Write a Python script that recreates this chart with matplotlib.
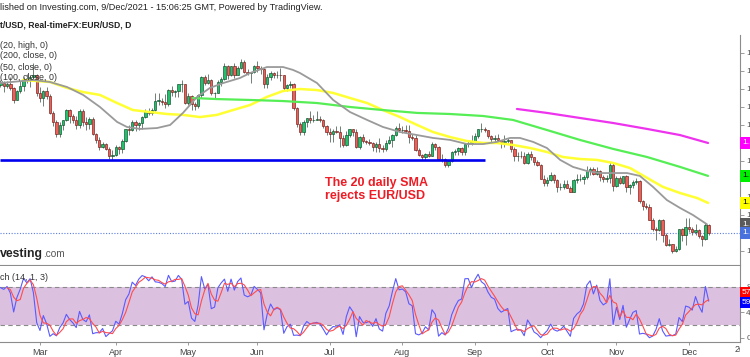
import numpy as np
import pandas as pd
import matplotlib
matplotlib.use('Agg')
import matplotlib.pyplot as plt
from matplotlib.transforms import Bbox

plt.rcParams['font.family'] = ['Liberation Sans', 'DejaVu Sans']

# ------------------------------------------------------------------
# ---------------- EUR/USD daily candles ----------
# ------------------------------------------------------------------
dates = pd.bdate_range('2021-01-25', '2021-12-09')

opens = [
    # Jan 25 - Feb 10
    1.2170, 1.2140, 1.2160, 1.2110, 1.2120, 1.2135, 1.2060, 1.2040, 1.2035, 1.1965, 1.2045, 1.2050, 1.2118,
    # Feb 11 - Feb 26
    1.2120, 1.2132, 1.2118, 1.2128, 1.2105, 1.2040, 1.2090, 1.2118, 1.2155, 1.2150, 1.2165, 1.2175,
    # Mar
    1.2075, 1.2048, 1.2090, 1.2060, 1.1966, 1.1915, 1.1848, 1.1900, 1.1930, 1.1985, 1.1952, 1.1930,
    1.1900, 1.1980, 1.1915, 1.1905, 1.1935, 1.1850, 1.1815, 1.1780, 1.1795, 1.1765, 1.1730,
    # Apr
    1.1735, 1.1778, 1.1765, 1.1813, 1.1875, 1.1870, 1.1915, 1.1900, 1.1910, 1.1945, 1.1978, 1.1965,
    1.1983, 1.2035, 1.2035, 1.2030, 1.2015, 1.2095, 1.2085, 1.2090, 1.2125, 1.2128,
    # May
    1.2020, 1.2060, 1.2015, 1.2005, 1.2065, 1.2165, 1.2135, 1.2150, 1.2075, 1.2080, 1.2140, 1.2155,
    1.2225, 1.2175, 1.2225, 1.2180, 1.2215, 1.2250, 1.2195, 1.2190, 1.2195,
    # Jun
    1.2225, 1.2215, 1.2210, 1.2125, 1.2165, 1.2190, 1.2175, 1.2180, 1.2175, 1.2105, 1.2120, 1.2125,
    1.1995, 1.1905, 1.1860, 1.1915, 1.1940, 1.1925, 1.1930, 1.1935, 1.1925, 1.1895,
    # Jul
    1.1860, 1.1850, 1.1865, 1.1860, 1.1825, 1.1790, 1.1845, 1.1875, 1.1860, 1.1775, 1.1835, 1.1810,
    1.1805, 1.1800, 1.1780, 1.1795, 1.1770, 1.1765, 1.1800, 1.1815, 1.1845, 1.1885,
    # Aug
    1.1870, 1.1872, 1.1865, 1.1835, 1.1830, 1.1760, 1.1735, 1.1720, 1.1740, 1.1730, 1.1795, 1.1780,
    1.1710, 1.1712, 1.1675, 1.1700, 1.1750, 1.1755, 1.1770, 1.1750, 1.1795, 1.1800,
    # Sep
    1.1807, 1.1840, 1.1875, 1.1880, 1.1870, 1.1840, 1.1820, 1.1825, 1.1815, 1.1805, 1.1810, 1.1815,
    1.1765, 1.1725, 1.1728, 1.1725, 1.1690, 1.1740, 1.1720, 1.1695, 1.1680, 1.1600,
    # Oct
    1.1580, 1.1595, 1.1620, 1.1595, 1.1555, 1.1558, 1.1570, 1.1552, 1.1530, 1.1595, 1.1598, 1.1600,
    1.1610, 1.1645, 1.1655, 1.1625, 1.1645, 1.1610, 1.1600, 1.1605, 1.1680,
    # Nov
    1.1560, 1.1605, 1.1580, 1.1615, 1.1555, 1.1565, 1.1585, 1.1590, 1.1480, 1.1448, 1.1445, 1.1370,
    1.1320, 1.1318, 1.1370, 1.1290, 1.1235, 1.1238, 1.1200, 1.1210, 1.1320, 1.1290,
    # Dec
    1.1335, 1.1320, 1.1305, 1.1315, 1.1285, 1.1265, 1.1345,
]

highs = [
    1.2180, 1.2170, 1.2170, 1.2140, 1.2155, 1.2150, 1.2077, 1.2050, 1.2040, 1.2050, 1.2060, 1.2125, 1.2150,
    1.2150, 1.2145, 1.2145, 1.2169, 1.2110, 1.2092, 1.2147, 1.2169, 1.2181, 1.2175, 1.2243, 1.2185,
    1.2113, 1.2094, 1.2113, 1.2073, 1.1975, 1.1925, 1.1915, 1.1930, 1.1990, 1.1990, 1.1962, 1.1950,
    1.1988, 1.1990, 1.1945, 1.1945, 1.1942, 1.1853, 1.1835, 1.1808, 1.1800, 1.1775, 1.1760,
    1.1790, 1.1782, 1.1820, 1.1880, 1.1900, 1.1927, 1.1925, 1.1915, 1.1950, 1.1990, 1.1995, 1.1995,
    1.2080, 1.2079, 1.2050, 1.2070, 1.2100, 1.2117, 1.2095, 1.2130, 1.2150, 1.2130,
    1.2075, 1.2065, 1.2030, 1.2072, 1.2172, 1.2180, 1.2182, 1.2158, 1.2085, 1.2150, 1.2165, 1.2245,
    1.2235, 1.2230, 1.2245, 1.2225, 1.2266, 1.2262, 1.2210, 1.2195, 1.2235,
    1.2255, 1.2225, 1.2215, 1.2185, 1.2200, 1.2195, 1.2200, 1.2218, 1.2180, 1.2130, 1.2145, 1.2135,
    1.2000, 1.1915, 1.1925, 1.1940, 1.1975, 1.1955, 1.1975, 1.1950, 1.1935, 1.1900,
    1.1885, 1.1875, 1.1895, 1.1895, 1.1845, 1.1868, 1.1880, 1.1880, 1.1880, 1.1838, 1.1850, 1.1815,
    1.1820, 1.1806, 1.1803, 1.1830, 1.1790, 1.1815, 1.1840, 1.1850, 1.1895, 1.1909,
    1.1892, 1.1898, 1.1900, 1.1850, 1.1845, 1.1770, 1.1740, 1.1745, 1.1755, 1.1805, 1.1800, 1.1785,
    1.1740, 1.1715, 1.1703, 1.1755, 1.1765, 1.1775, 1.1780, 1.1800, 1.1810, 1.1845,
    1.1857, 1.1875, 1.1909, 1.1887, 1.1870, 1.1845, 1.1845, 1.1849, 1.1817, 1.1845, 1.1830, 1.1815,
    1.1780, 1.1750, 1.1755, 1.1750, 1.1750, 1.1755, 1.1720, 1.1705, 1.1685, 1.1620,
    1.1610, 1.1640, 1.1625, 1.1600, 1.1580, 1.1595, 1.1595, 1.1560, 1.1600, 1.1625, 1.1625, 1.1620,
    1.1670, 1.1668, 1.1665, 1.1665, 1.1650, 1.1620, 1.1620, 1.1692, 1.1690,
    1.1615, 1.1615, 1.1617, 1.1620, 1.1570, 1.1595, 1.1608, 1.1595, 1.1485, 1.1464, 1.1460, 1.1385,
    1.1335, 1.1375, 1.1375, 1.1300, 1.1265, 1.1240, 1.1230, 1.1320, 1.1330, 1.1383,
    1.1383, 1.1335, 1.1350, 1.1320, 1.1290, 1.1355, 1.1350,
]

lows = [
    1.2117, 1.2105, 1.2060, 1.2080, 1.2110, 1.2060, 1.2010, 1.2005, 1.1953, 1.1952, 1.2010, 1.2045, 1.2105,
    1.2110, 1.2083, 1.2105, 1.2093, 1.2023, 1.2040, 1.2078, 1.2090, 1.2135, 1.2110, 1.2160, 1.2060,
    1.2027, 1.2008, 1.2045, 1.1960, 1.1893, 1.1836, 1.1835, 1.1872, 1.1920, 1.1910, 1.1910, 1.1880,
    1.1885, 1.1895, 1.1873, 1.1880, 1.1842, 1.1800, 1.1762, 1.1770, 1.1761, 1.1712, 1.1704,
    1.1725, 1.1740, 1.1745, 1.1807, 1.1846, 1.1867, 1.1868, 1.1870, 1.1875, 1.1940, 1.1955, 1.1955,
    1.1975, 1.2010, 1.2010, 1.1995, 1.2005, 1.2060, 1.2055, 1.2055, 1.2085, 1.2015,
    1.2012, 1.1985, 1.1985, 1.1995, 1.2050, 1.2120, 1.2125, 1.2068, 1.2052, 1.2075, 1.2118, 1.2150,
    1.2155, 1.2170, 1.2160, 1.2180, 1.2210, 1.2190, 1.2175, 1.2135, 1.2190,
    1.2195, 1.2185, 1.2105, 1.2104, 1.2150, 1.2160, 1.2160, 1.2145, 1.2093, 1.2090, 1.2105, 1.1985,
    1.1890, 1.1847, 1.1845, 1.1890, 1.1913, 1.1915, 1.1925, 1.1915, 1.1882, 1.1847,
    1.1807, 1.1805, 1.1855, 1.1780, 1.1780, 1.1782, 1.1835, 1.1837, 1.1772, 1.1765, 1.1800, 1.1797,
    1.1790, 1.1755, 1.1752, 1.1750, 1.1750, 1.1755, 1.1795, 1.1780, 1.1840, 1.1860,
    1.1855, 1.1855, 1.1800, 1.1815, 1.1755, 1.1727, 1.1705, 1.1706, 1.1722, 1.1725, 1.1762, 1.1705,
    1.1695, 1.1665, 1.1664, 1.1695, 1.1735, 1.1735, 1.1735, 1.1735, 1.1780, 1.1790,
    1.1798, 1.1825, 1.1860, 1.1860, 1.1830, 1.1800, 1.1805, 1.1810, 1.1770, 1.1780, 1.1800, 1.1750,
    1.1700, 1.1700, 1.1715, 1.1683, 1.1685, 1.1705, 1.1680, 1.1670, 1.1600, 1.1563,
    1.1563, 1.1590, 1.1580, 1.1529, 1.1540, 1.1545, 1.1550, 1.1525, 1.1525, 1.1580, 1.1590, 1.1570,
    1.1600, 1.1620, 1.1620, 1.1620, 1.1590, 1.1585, 1.1585, 1.1580, 1.1535,
    1.1555, 1.1570, 1.1570, 1.1528, 1.1514, 1.1550, 1.1570, 1.1467, 1.1430, 1.1433, 1.1370, 1.1310,
    1.1263, 1.1310, 1.1250, 1.1225, 1.1227, 1.1186, 1.1195, 1.1205, 1.1255, 1.1235,
    1.1306, 1.1290, 1.1290, 1.1270, 1.1227, 1.1260, 1.1290,
]

closes = [
    1.2140, 1.2160, 1.2110, 1.2120, 1.2135, 1.2060, 1.2040, 1.2035, 1.1965, 1.2045, 1.2050, 1.2118, 1.2120,
    1.2132, 1.2118, 1.2128, 1.2105, 1.2040, 1.2090, 1.2118, 1.2155, 1.2150, 1.2165, 1.2175, 1.2075,
    1.2048, 1.2090, 1.2060, 1.1966, 1.1915, 1.1848, 1.1900, 1.1930, 1.1985, 1.1952, 1.1930, 1.1900,
    1.1980, 1.1915, 1.1905, 1.1935, 1.1850, 1.1815, 1.1780, 1.1795, 1.1765, 1.1730, 1.1735,
    1.1778, 1.1765, 1.1813, 1.1875, 1.1870, 1.1915, 1.1900, 1.1910, 1.1945, 1.1978, 1.1965, 1.1983,
    1.2035, 1.2035, 1.2030, 1.2015, 1.2095, 1.2085, 1.2090, 1.2125, 1.2128, 1.2020,
    1.2060, 1.2015, 1.2005, 1.2065, 1.2165, 1.2135, 1.2150, 1.2075, 1.2080, 1.2140, 1.2155, 1.2225,
    1.2175, 1.2225, 1.2180, 1.2215, 1.2250, 1.2195, 1.2190, 1.2195, 1.2225,
    1.2215, 1.2210, 1.2125, 1.2165, 1.2190, 1.2175, 1.2180, 1.2175, 1.2105, 1.2120, 1.2125, 1.1995,
    1.1905, 1.1860, 1.1915, 1.1940, 1.1925, 1.1930, 1.1935, 1.1925, 1.1895, 1.1860,
    1.1850, 1.1865, 1.1860, 1.1825, 1.1790, 1.1845, 1.1875, 1.1860, 1.1775, 1.1835, 1.1810, 1.1805,
    1.1800, 1.1780, 1.1795, 1.1770, 1.1765, 1.1800, 1.1815, 1.1845, 1.1885, 1.1870,
    1.1872, 1.1865, 1.1835, 1.1830, 1.1760, 1.1735, 1.1720, 1.1740, 1.1730, 1.1795, 1.1780, 1.1710,
    1.1712, 1.1675, 1.1700, 1.1750, 1.1755, 1.1770, 1.1750, 1.1795, 1.1800, 1.1807,
    1.1840, 1.1875, 1.1880, 1.1870, 1.1840, 1.1820, 1.1825, 1.1815, 1.1805, 1.1810, 1.1815, 1.1765,
    1.1725, 1.1728, 1.1725, 1.1690, 1.1740, 1.1720, 1.1695, 1.1680, 1.1600, 1.1580,
    1.1595, 1.1620, 1.1595, 1.1555, 1.1558, 1.1570, 1.1552, 1.1530, 1.1595, 1.1598, 1.1600, 1.1610,
    1.1645, 1.1655, 1.1625, 1.1645, 1.1610, 1.1600, 1.1605, 1.1680, 1.1560,
    1.1605, 1.1580, 1.1615, 1.1555, 1.1565, 1.1585, 1.1590, 1.1480, 1.1448, 1.1445, 1.1370, 1.1320,
    1.1318, 1.1370, 1.1290, 1.1235, 1.1238, 1.1200, 1.1210, 1.1320, 1.1290, 1.1335,
    1.1320, 1.1305, 1.1315, 1.1285, 1.1265, 1.1345, 1.1300,
]

# ---------------- moving averages (bar number, 0 = 1 Mar) --------
sma20h_x = [-12.1, -2.1, 3.0, 8.2, 13.1, 18.2, 23.4, 26.4, 30.4, 35.5, 39.5, 43.4, 47.7, 51.6, 55.6,
            60.7, 63.8, 68.9, 73.8, 76.8, 78.9, 84.1, 89.0, 94.1, 99.3, 104.1, 109.3, 114.5, 119.3,
            124.5, 129.6, 134.5, 138.7, 142.7, 145.7, 149.7, 153.9, 157.9, 161.8, 166.1, 170.0,
            174.0, 178.2, 182.1, 186.1, 190.3, 194.3, 198.2, 202.5]
sma20h_y = [1.2133, 1.2150, 1.2139, 1.2111, 1.2067, 1.2000, 1.1917, 1.1889, 1.1878, 1.1883, 1.1900,
            1.1967, 1.2056, 1.2106, 1.2133, 1.2161, 1.2189, 1.2222, 1.2222, 1.2206, 1.2189, 1.2133,
            1.2039, 1.1972, 1.1928, 1.1889, 1.1861, 1.1844, 1.1828, 1.1817, 1.1794, 1.1794, 1.1806,
            1.1828, 1.1828, 1.1806, 1.1772, 1.1706, 1.1667, 1.1644, 1.1633, 1.1633, 1.1633, 1.1617,
            1.1556, 1.1483, 1.1439, 1.1400, 1.1348]

sma50_x = [-5.2, 3.0, 8.2, 13.1, 18.2, 23.4, 28.2, 33.4, 38.6, 43.4, 48.6, 53.7, 58.6, 63.8, 68.9,
           73.8, 78.9, 84.1, 89.0, 94.1, 99.3, 104.1, 109.3, 114.5, 119.3, 124.5, 129.6, 134.5,
           138.7, 143.6, 148.8, 153.9, 158.8, 163.9, 169.1, 174.0, 179.1, 184.3, 189.1, 194.3,
           199.5, 202.8]
sma50_y = [1.2150, 1.2139, 1.2106, 1.2083, 1.2067, 1.2022, 1.1983, 1.1972, 1.1961, 1.1956, 1.1944,
           1.1956, 1.1983, 1.2011, 1.2056, 1.2089, 1.2100, 1.2094, 1.2078, 1.2050, 1.2022, 1.1983,
           1.1944, 1.1900, 1.1861, 1.1833, 1.1811, 1.1800, 1.1800, 1.1789, 1.1772, 1.1750, 1.1722,
           1.1711, 1.1706, 1.1689, 1.1661, 1.1606, 1.1556, 1.1522, 1.1494, 1.1467]

sma100_x = [46.4, 53.7, 63.8, 73.8, 84.1, 94.1, 104.1, 114.5, 124.5, 134.5, 143.6, 153.9, 163.9,
            174.0, 184.3, 194.3, 202.8]
sma100_y = [1.2050, 1.2044, 1.2039, 1.2033, 1.2022, 1.2000, 1.1983, 1.1967, 1.1961, 1.1950, 1.1928,
            1.1872, 1.1817, 1.1767, 1.1722, 1.1667, 1.1617]

sma200_x = [144.8, 153.9, 163.9, 174.0, 184.3, 194.3, 202.8]
sma200_y = [1.1989, 1.1967, 1.1939, 1.1911, 1.1878, 1.1844, 1.1800]

# support line drawn on the chart
support_level = 1.1705
support_from, support_to = -12.1, 135.1

months = ['Mar', 'Apr', 'May', 'Jun', 'Jul', 'Aug', 'Sep', 'Oct', 'Nov', 'Dec']

# ------------------------------------------------------------------
df = pd.DataFrame({'o': opens, 'h': highs, 'l': lows, 'c': closes}, index=dates)
first_mar = df.index.get_loc(pd.Timestamp('2021-03-01'))
x = np.arange(len(df)) - first_mar

# stochastic (14, 1, 3) from the candles
ll = df['l'].rolling(14).min()
hh = df['h'].rolling(14).max()
k = 100 * (df['c'] - ll) / (hh - ll)
d = k.rolling(3).mean()

# ------------------------------------------------------------------
W, H = 750, 357


def box(x0, y0, x1, y1):
    return [x0 / W, 1 - y1 / H, (x1 - x0) / W, (y1 - y0) / H]


fig = plt.figure(figsize=(7.5, 3.57), dpi=100)
ax = fig.add_axes(box(0, 35, 740, 265))
ax2 = fig.add_axes(box(0, 266, 740, 342))

px_bar = 3.294
xmin, xmax = -40 / px_bar, 700 / px_bar
for a in (ax, ax2):
    a.set_xlim(xmin, xmax)
    a.spines['top'].set_visible(False)
    a.spines['left'].set_visible(False)
    a.spines['right'].set_color('#8c8c8c')
    a.spines['bottom'].set_color('#8c8c8c')
    a.yaxis.tick_right()
    a.tick_params(axis='y', length=3, width=0.6, colors='#8c8c8c', labelcolor='#555555',
                  labelsize=6, pad=1.5)

ax.set_ylim(1.1122, 1.24)
ax.set_xticks([])
yt = [1.12, 1.13, 1.14, 1.15, 1.16, 1.17, 1.18, 1.19, 1.20, 1.21, 1.22, 1.23]
ax.set_yticks(yt)
ax.set_yticklabels([f'{v:.4f}' for v in yt])

# -------- candles ---------
up = df['c'] >= df['o']
body_lo = np.minimum(df['o'], df['c'])
body_h = np.maximum(np.abs(df['c'] - df['o']), 0.00025)
ax.vlines(x, df['l'], df['h'], color='#6f7f74', lw=0.7, zorder=2)
ax.bar(x[up], body_h[up], bottom=body_lo[up], width=0.72, color='#1fc26b',
       edgecolor='#0d4a28', linewidth=0.45, zorder=3)
ax.bar(x[~up], body_h[~up], bottom=body_lo[~up], width=0.72, color='#ef5f57',
       edgecolor='#6b1c18', linewidth=0.45, zorder=3)

# -------- moving averages ---------
ax.plot(sma50_x, sma50_y, color='#ffff33', lw=1.8, zorder=4, solid_capstyle='round')
ax.plot(sma100_x, sma100_y, color='#55ee55', lw=1.6, zorder=4, solid_capstyle='round')
ax.plot(sma200_x, sma200_y, color='#ee33ee', lw=1.6, zorder=4, solid_capstyle='round')
ax.plot(sma20h_x, sma20h_y, color='#9a9a9a', lw=1.3, zorder=4, solid_capstyle='round')

ax.hlines(support_level, support_from, support_to, color='#0000ee', lw=1.9, zorder=5)
ax.axhline(closes[-1], color='#5b7fe0', lw=0.8, ls=(0, (1, 1.5)), zorder=1)

# -------- right-hand value labels ---------
def tag(a, val, text, bg, fg, dy=0):
    a.annotate(text, xy=(1.0, val), xycoords=a.get_yaxis_transform(), xytext=(1.5, dy),
               textcoords='offset points', va='center', ha='left', fontsize=6, color=fg,
               bbox=dict(boxstyle='square,pad=0.28', fc=bg, ec='none'),
               annotation_clip=False, zorder=10)


tag(ax, sma200_y[-1], f'{sma200_y[-1]:.4f}', '#ff00ff', 'white')
tag(ax, sma100_y[-1], f'{sma100_y[-1]:.4f}', '#00ee00', 'black')
tag(ax, sma50_y[-1], f'{sma50_y[-1]:.4f}', '#ffff00', 'black')
tag(ax, sma20h_y[-1], f'{sma20h_y[-1]:.4f}', '#5a5a5a', 'white')
tag(ax, closes[-1], f'{closes[-1]:.4f}', '#4a72dc', 'white')

# -------- stochastic panel ---------
ax2.set_ylim(-6.8, 113)
ax2.axhspan(20, 80, color='#dcc0e0', lw=0, zorder=0)
for lvl in (20, 80):
    ax2.axhline(lvl, color='#8a8a8a', lw=0.8, ls=(0, (4, 3)), zorder=1)
ax2.plot(x, k, color='#5a5aff', lw=0.8, zorder=3)
ax2.plot(x, d, color='#ff4d4d', lw=0.8, zorder=4)
ax2.set_yticks([0, 40, 80])
ax2.set_yticklabels(['0.00', '40.00', '80.00'])
tag(ax2, (k.iloc[-1] + d.iloc[-1]) / 2, f'{k.iloc[-1]:.2f}', '#ff0000', 'white', dy=5.6)
tag(ax2, (k.iloc[-1] + d.iloc[-1]) / 2, f'{d.iloc[-1]:.2f}', '#0000ff', 'white', dy=-1.6)

month_pos = [x[df.index.get_indexer([df.index[df.index.month == m][0]])[0]] for m in range(3, 13)]
ax2.set_xticks(month_pos)
ax2.set_xticklabels(months)
ax2.tick_params(axis='x', length=2, width=0.6, colors='#8c8c8c', labelcolor='#444444',
                labelsize=6.5, pad=2)
# next year's label, hidden behind the price scale
yr = fig.text(735 / W, 1 - 349 / H, '2022', fontsize=6.5, color='#444444', ha='left', va='center')
yr.set_clip_box(Bbox.from_extents(0, 0, 740, 357))
yr.set_clip_on(True)

# -------- texts ---------
fig.text(0, 1 - 8 / H, 'lished on Investing.com, 9/Dec/2021 - 15:06:25 GMT, Powered by TradingView.',
         fontsize=6.6, color='#222222', va='center')
fig.text(0, 1 - 25 / H, 't/USD, Real-timeFX:EUR/USD, D', fontsize=6.2, fontweight='bold',
         color='#222222', va='center')
for yy, s in zip([45, 56, 67, 77], ['(20, high, 0)', '(200, close, 0)', '(50, close, 0)',
                                    '(100, close, 0)']):
    fig.text(0, 1 - yy / H, s, fontsize=6.4, color='#333333', va='center')
fig.text(0, 1 - 277 / H, 'ch (14, 1, 3)', fontsize=6.4, color='#333333', va='center')
fig.text(0, 1 - 257 / H, 'vesting', fontsize=8.8, fontweight='bold', color='#222222', va='baseline')
fig.text(43 / W, 1 - 257 / H, '.com', fontsize=7.2, color='#555555', va='baseline')

fig.text(325 / W, 1 - 177 / H, 'The 20 daily SMA\nrejects EUR/USD', fontsize=9, fontweight='bold',
         color='#ee1c25', va='top', ha='left', linespacing=1.15)

plt.savefig('out.png', dpi=100)
